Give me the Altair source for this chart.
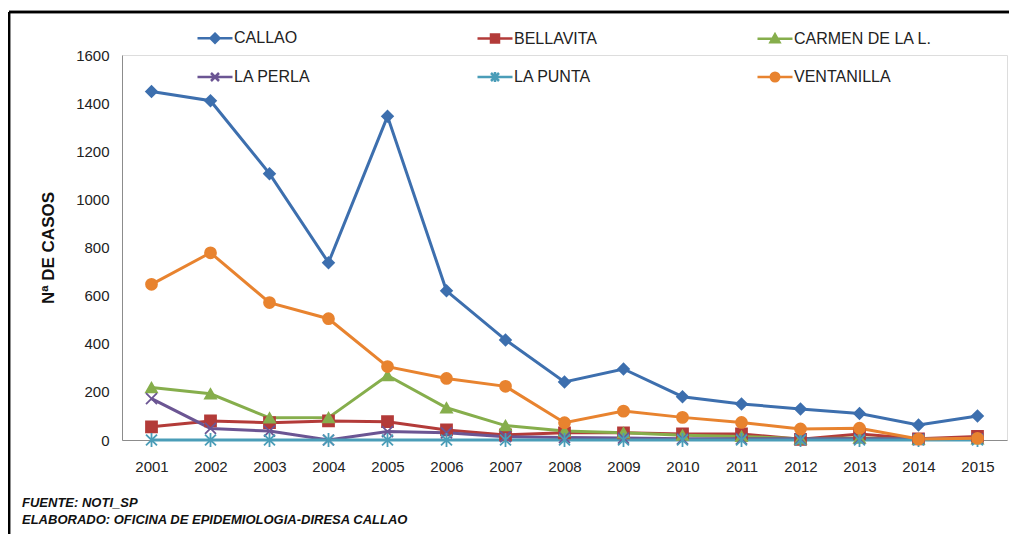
import altair as alt
import pandas as pd

years = [2001, 2002, 2003, 2004, 2005, 2006, 2007, 2008, 2009, 2010, 2011, 2012, 2013, 2014, 2015]
series_names = ["CALLAO", "BELLAVITA", "CARMEN DE LA L.", "LA PERLA", "LA PUNTA", "VENTANILLA"]
callao = [1448, 1410, 1107, 737, 1345, 620, 416, 241, 295, 180, 150, 129, 110, 62, 100]
bellavita = [55, 79, 72, 79, 76, 42, 21, 30, 30, 25, 25, 3, 25, 5, 15]
carmen = [218, 192, 92, 93, 268, 134, 60, 37, 30, 20, 15, 5, 8, 3, 5]
la_perla = [172, 48, 37, 0, 35, 30, 14, 10, 8, 5, 5, 5, 5, 5, 5]
la_punta = [0, 0, 0, 0, 0, 0, 0, 0, 0, 0, 0, 0, 0, 0, 0]
ventanilla = [647, 778, 571, 504, 305, 256, 223, 72, 120, 94, 73, 46, 49, 4, 7]
y_ticks = [0, 200, 400, 600, 800, 1000, 1200, 1400, 1600]
footer_lines = ["FUENTE: NOTI_SP", "ELABORADO: OFICINA DE EPIDEMIOLOGIA-DIRESA CALLAO"]

colors = ["#3D6FAE", "#B33B39", "#86AE4C", "#6B5593", "#4A9DB8", "#E8832F"]
marker_shapes = [
    "diamond",
    "square",
    "triangle-up",
    "M-1,-1L1,1M-1,1L1,-1",
    "M-1,-1L1,1M-1,1L1,-1M0,-1.3L0,1.3",
    "circle",
]
legend_shapes = [
    "M-3.5,0L3.5,0M0,-0.9L0.9,0L0,0.9L-0.9,0Z",
    "M-3.5,0L3.5,0M-0.8,-0.8L0.8,-0.8L0.8,0.8L-0.8,0.8Z",
    "M-3.5,0L3.5,0M0,-0.9L0.9,0.7L-0.9,0.7Z",
    "M-3.5,0L3.5,0M-0.8,-0.8L0.8,0.8M-0.8,0.8L0.8,-0.8",
    "M-3.5,0L3.5,0M-0.8,-0.8L0.8,0.8M-0.8,0.8L0.8,-0.8M0,-1L0,1",
    "M-3.5,0L3.5,0M-0.85,0A0.85,0.85,0,1,0,0.85,0A0.85,0.85,0,1,0,-0.85,0Z",
]

values = [callao, bellavita, carmen, la_perla, la_punta, ventanilla]
rows = []
for name, vals in zip(series_names, values):
    for y, v in zip(years, vals):
        rows.append({"year": str(y), "serie": name, "casos": v, "order": series_names.index(name)})
df = pd.DataFrame(rows)

x_enc = alt.X("year:O", title=None,
              axis=alt.Axis(labelAngle=0, labelFont="Liberation Sans", labelFontSize=15,
                            labelColor="#222222", labelPadding=19, ticks=False,
                            domainColor="#8c8c8c", domainWidth=1, grid=False))
y_enc = alt.Y("casos:Q", title="Nª DE CASOS",
              scale=alt.Scale(domain=[0, 1600], nice=False),
              axis=alt.Axis(values=y_ticks, format="d",
                            labelFont="Liberation Sans", labelFontSize=15, labelColor="#222222",
                            labelPadding=13, ticks=False, grid=False,
                            domainColor="#8c8c8c", domainWidth=1,
                            titleFont="Liberation Sans", titleFontSize=17, titleFontWeight="bold",
                            titleColor="#111111", titlePadding=18))

lines = alt.Chart(df).mark_line(strokeWidth=3).encode(
    x=x_enc, y=y_enc,
    stroke=alt.Stroke("serie:N", scale=alt.Scale(domain=series_names, range=colors), legend=None),
    order=alt.Order("year:O"),
)

points = alt.Chart(df).mark_point(filled=True, size=120, strokeWidth=1.8, opacity=1).encode(
    x=x_enc, y=y_enc,
    fill=alt.Fill("serie:N", scale=alt.Scale(domain=series_names, range=colors), legend=None),
    stroke=alt.Stroke("serie:N", scale=alt.Scale(domain=series_names, range=colors), legend=None),
    shape=alt.Shape("serie:N", scale=alt.Scale(domain=series_names, range=marker_shapes), legend=None),
    order=alt.Order("order:Q"),
)

leg = alt.Legend(
    title=None, orient="none", legendX=85, legendY=-25, direction="horizontal", columns=3,
    gridAlign="all", columnPadding=100, rowPadding=19, symbolSize=100, symbolStrokeWidth=2.5,
    labelOffset=11, labelFont="Liberation Sans", labelFontSize=16, labelColor="#222222",
    symbolOpacity=1,
)
legend_layer = alt.Chart(df).transform_filter("datum.casos < -1").mark_point(filled=True).encode(
    x=x_enc, y=y_enc,
    fill=alt.Fill("serie:N", scale=alt.Scale(domain=series_names, range=colors), legend=leg),
    stroke=alt.Stroke("serie:N", scale=alt.Scale(domain=series_names, range=colors), legend=leg),
    shape=alt.Shape("serie:N", scale=alt.Scale(domain=series_names, range=legend_shapes), legend=leg),
)

footer_df = pd.DataFrame({"line": footer_lines, "idx": [0, 1]})
footer1 = alt.Chart(footer_df).transform_filter("datum.idx == 0").mark_text(
    align="left", baseline="middle", font="Liberation Sans", fontSize=13, fontStyle="italic",
    fontWeight="bold", color="#111111"
).encode(text="line:N", x=alt.value(-100), y=alt.value(448))
footer2 = alt.Chart(footer_df).transform_filter("datum.idx == 1").mark_text(
    align="left", baseline="middle", font="Liberation Sans", fontSize=13, fontStyle="italic",
    fontWeight="bold", color="#111111"
).encode(text="line:N", x=alt.value(-100), y=alt.value(465))

frame = alt.Chart(footer_df).mark_rule(color="#000000", strokeWidth=2.5).encode(
    x=alt.value(-113), x2=alt.value(-113), y=alt.value(-43), y2=alt.value(490)
) + alt.Chart(footer_df).mark_rule(color="#000000", strokeWidth=2.5).encode(
    x=alt.value(-113), x2=alt.value(900), y=alt.value(-43), y2=alt.value(-43)
)

chart = alt.layer(lines, points, legend_layer, footer1, footer2, frame).resolve_scale(
    fill="independent", stroke="independent", shape="independent"
).resolve_legend(
    fill="independent", stroke="independent", shape="independent"
).properties(
    width=885, height=385,
    autosize=alt.AutoSizeParams(type="none"),
    padding={"left": 114, "top": 47, "right": 2, "bottom": 94},
).configure_view(stroke=None).configure(background="white")

chart.save("out.html", embed_options={"renderer": "svg", "actions": False})
